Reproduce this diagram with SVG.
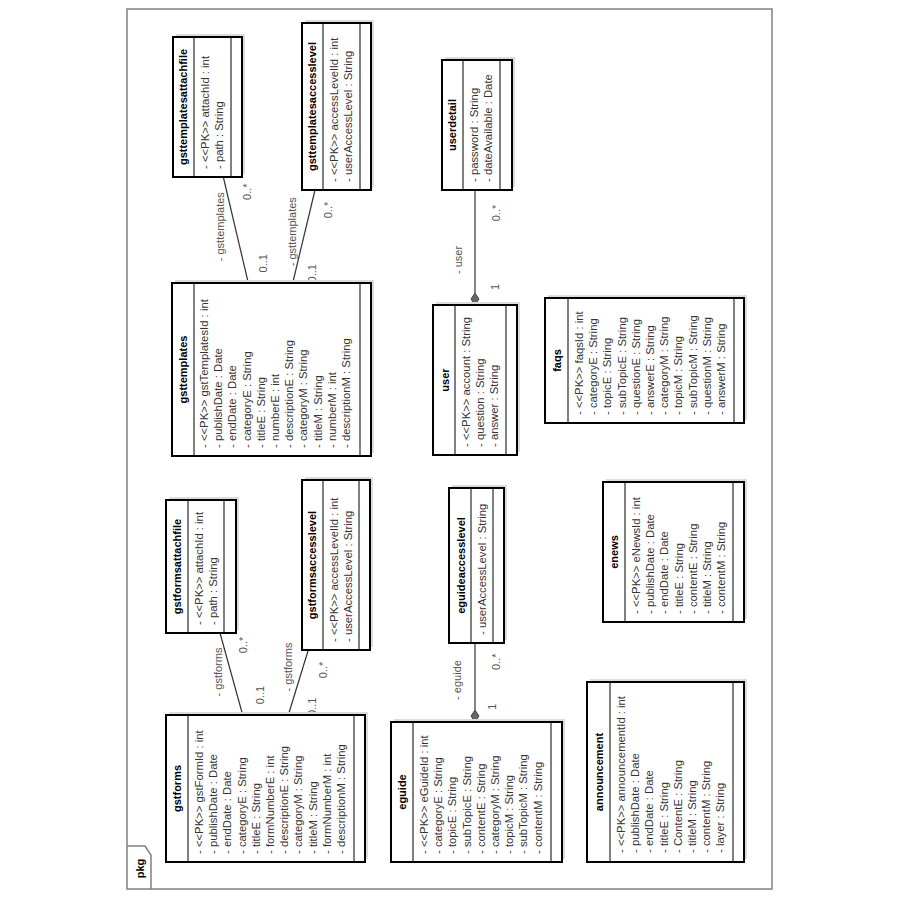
<svg xmlns="http://www.w3.org/2000/svg" width="900" height="900" viewBox="0 0 900 900">
<style>
.frame{fill:none;stroke:#808080;stroke-width:1.5}
.box{fill:#fff;stroke:#000;stroke-width:2}
.sh{fill:#dcdcdc}
.sep{stroke:#000;stroke-width:1}
.nm{font-family:"Liberation Sans",Arial,sans-serif;font-size:11px;font-weight:bold;text-anchor:middle;fill:#000}
.at{font-family:"Liberation Sans",Arial,sans-serif;font-size:11.3px;fill:#333}
.lb{font-family:"Liberation Sans",Arial,sans-serif;font-size:11px;text-anchor:middle;fill:#555}
.cn{stroke:#333;stroke-width:1.2;fill:none}
.dia{fill:#666;stroke:#444;stroke-width:1}
</style>
<rect width="900" height="900" fill="#fff"/>
<g transform="translate(0,900) rotate(-90)">
<g id="frame">
<rect class="frame" x="11" y="127" width="880" height="645"/>
<polyline class="frame" points="11,151 45,151 54,145 54,127"/>
<text class="nm" x="31.5" y="144">pkg</text>
</g>

<g id="connectors">
<line class="cn" x1="185" y1="242.7" x2="267" y2="220"/>
<line class="cn" x1="185" y1="288.3" x2="250" y2="308.3"/>
<line class="cn" x1="617" y1="248.3" x2="723" y2="223.3"/>
<line class="cn" x1="617" y1="292.7" x2="710" y2="315"/>
<line class="cn" x1="607" y1="475" x2="710" y2="475"/>
<polygon class="dia" points="595,475 601,471 607,475 601,479"/>
<line class="cn" x1="190" y1="475" x2="257" y2="475"/>
<polygon class="dia" points="178,475 184,471 190,475 184,479"/>
<text class="lb" x="228" y="222">- gstforms</text>
<text class="lb" x="255" y="246.5">0..*</text>
<text class="lb" x="205" y="264">0..1</text>
<text class="lb" x="233" y="292">- gstforms</text>
<text class="lb" x="230" y="327">0..*</text>
<text class="lb" x="193.3" y="315.5">0..1</text>
<text class="lb" x="673.3" y="224">- gsttemplates</text>
<text class="lb" x="708.3" y="251">0..*</text>
<text class="lb" x="636.7" y="267">0..1</text>
<text class="lb" x="668.3" y="295.5">- gsttemplates</text>
<text class="lb" x="690" y="332">0..*</text>
<text class="lb" x="626.7" y="315.5">0..1</text>
<text class="lb" x="640" y="462">- user</text>
<text class="lb" x="687" y="500">0..*</text>
<text class="lb" x="613" y="499">1</text>
<text class="lb" x="220" y="460.5">- eguide</text>
<text class="lb" x="238.3" y="500">0..*</text>
<text class="lb" x="193.3" y="495.5">1</text>
</g>

<g id="gstforms">
<rect class="sh" x="41" y="169" width="147" height="199"/>
<rect class="box" x="38" y="166" width="147" height="199"/>
<line class="sep" x1="38" y1="188" x2="185" y2="188"/>
<line class="sep" x1="38" y1="354" x2="185" y2="354"/>
<text class="nm" x="111.5" y="181">gstforms</text>
<text class="at" x="46" y="203"><tspan x="46">- &lt;&lt;PK&gt;&gt; gstFormId : int</tspan><tspan x="46" dy="14.2">- publishDate : Date</tspan><tspan x="46" dy="14.2">- endDate : Date</tspan><tspan x="46" dy="14.2">- categoryE : String</tspan><tspan x="46" dy="14.2">- titleE : String</tspan><tspan x="46" dy="14.2">- formNumberE : int</tspan><tspan x="46" dy="14.2">- descriptionE : String</tspan><tspan x="46" dy="14.2">- categoryM : String</tspan><tspan x="46" dy="14.2">- titleM : String</tspan><tspan x="46" dy="14.2">- formNumberM : int</tspan><tspan x="46" dy="14.2">- descriptionM : String</tspan></text>
</g>

<g id="gstformsattachfile">
<rect class="sh" x="270" y="169" width="133" height="70"/>
<rect class="box" x="267" y="166" width="133" height="70"/>
<line class="sep" x1="267" y1="188" x2="400" y2="188"/>
<line class="sep" x1="267" y1="224" x2="400" y2="224"/>
<text class="nm" x="333.5" y="181">gstformsattachfile</text>
<text class="at" x="275" y="203"><tspan x="275">- &lt;&lt;PK&gt;&gt; attachId : int</tspan><tspan x="275" dy="14.2">- path : String</tspan></text>
</g>

<g id="gstformsaccesslevel">
<rect class="sh" x="253" y="305" width="170" height="68"/>
<rect class="box" x="250" y="302" width="170" height="68"/>
<line class="sep" x1="250" y1="323" x2="420" y2="323"/>
<line class="sep" x1="250" y1="359" x2="420" y2="359"/>
<text class="nm" x="335" y="316">gstformsaccesslevel</text>
<text class="at" x="258" y="338"><tspan x="258">- &lt;&lt;PK&gt;&gt; accessLevelId : int</tspan><tspan x="258" dy="14.2">- userAccessLevel : String</tspan></text>
</g>

<g id="gsttemplates">
<rect class="sh" x="447" y="175" width="173" height="199"/>
<rect class="box" x="444" y="172" width="173" height="199"/>
<line class="sep" x1="444" y1="194" x2="617" y2="194"/>
<line class="sep" x1="444" y1="360" x2="617" y2="360"/>
<text class="nm" x="530.5" y="187">gsttemplates</text>
<text class="at" x="452" y="208"><tspan x="452">- &lt;&lt;PK&gt;&gt; gstTemplatesId : int</tspan><tspan x="452" dy="14.2">- publishDate : Date</tspan><tspan x="452" dy="14.2">- endDate : Date</tspan><tspan x="452" dy="14.2">- categoryE : String</tspan><tspan x="452" dy="14.2">- titleE : String</tspan><tspan x="452" dy="14.2">- numberE : int</tspan><tspan x="452" dy="14.2">- descriptionE : String</tspan><tspan x="452" dy="14.2">- categoryM : String</tspan><tspan x="452" dy="14.2">- titleM : String</tspan><tspan x="452" dy="14.2">- numberM : int</tspan><tspan x="452" dy="14.2">- descriptionM : String</tspan></text>
</g>

<g id="gsttemplatesattachfile">
<rect class="sh" x="726" y="176" width="140" height="69"/>
<rect class="box" x="723" y="173" width="140" height="69"/>
<line class="sep" x1="723" y1="194" x2="863" y2="194"/>
<line class="sep" x1="723" y1="231" x2="863" y2="231"/>
<text class="nm" x="793" y="187">gsttemplatesattachfile</text>
<text class="at" x="731" y="209"><tspan x="731">- &lt;&lt;PK&gt;&gt; attachId : int</tspan><tspan x="731" dy="14.2">- path : String</tspan></text>
</g>

<g id="gsttemplatesaccesslevel">
<rect class="sh" x="713" y="305" width="167" height="69"/>
<rect class="box" x="710" y="302" width="167" height="69"/>
<line class="sep" x1="710" y1="323" x2="877" y2="323"/>
<line class="sep" x1="710" y1="360" x2="877" y2="360"/>
<text class="nm" x="793.5" y="316">gsttemplatesaccesslevel</text>
<text class="at" x="718" y="338"><tspan x="718">- &lt;&lt;PK&gt;&gt; accessLevelId : int</tspan><tspan x="718" dy="14.2">- userAccessLevel : String</tspan></text>
</g>

<g id="userdetail">
<rect class="sh" x="713" y="445" width="130" height="70"/>
<rect class="box" x="710" y="442" width="130" height="70"/>
<line class="sep" x1="710" y1="463" x2="840" y2="463"/>
<line class="sep" x1="710" y1="500" x2="840" y2="500"/>
<text class="nm" x="775" y="456">userdetail</text>
<text class="at" x="718" y="478"><tspan x="718">- password : String</tspan><tspan x="718" dy="14.2">- dateAvailable : Date</tspan></text>
</g>

<g id="user">
<rect class="sh" x="448" y="436" width="150" height="84"/>
<rect class="box" x="445" y="433" width="150" height="84"/>
<line class="sep" x1="445" y1="455" x2="595" y2="455"/>
<line class="sep" x1="445" y1="506" x2="595" y2="506"/>
<text class="nm" x="520" y="449">user</text>
<text class="at" x="453" y="470"><tspan x="453">- &lt;&lt;PK&gt;&gt; account : String</tspan><tspan x="453" dy="14.2">- question : String</tspan><tspan x="453" dy="14.2">- answer : String</tspan></text>
</g>

<g id="eguideaccesslevel">
<rect class="sh" x="260" y="452" width="155" height="55"/>
<rect class="box" x="257" y="449" width="155" height="55"/>
<line class="sep" x1="257" y1="471" x2="412" y2="471"/>
<line class="sep" x1="257" y1="493" x2="412" y2="493"/>
<text class="nm" x="334.5" y="465">eguideaccesslevel</text>
<text class="at" x="265" y="486">- userAccessLevel : String</text>
</g>

<g id="eguide">
<rect class="sh" x="41" y="394" width="140" height="171"/>
<rect class="box" x="38" y="391" width="140" height="171"/>
<line class="sep" x1="38" y1="413" x2="178" y2="413"/>
<line class="sep" x1="38" y1="551" x2="178" y2="551"/>
<text class="nm" x="108" y="406">eguide</text>
<text class="at" x="46" y="428"><tspan x="46">- &lt;&lt;PK&gt;&gt; eGuideId : int</tspan><tspan x="46" dy="14.2">- categoryE : String</tspan><tspan x="46" dy="14.2">- topicE : String</tspan><tspan x="46" dy="14.2">- subTopicE : String</tspan><tspan x="46" dy="14.2">- contentE : String</tspan><tspan x="46" dy="14.2">- categoryM : String</tspan><tspan x="46" dy="14.2">- topicM : String</tspan><tspan x="46" dy="14.2">- subTopicM : String</tspan><tspan x="46" dy="14.2">- contentM : String</tspan></text>
</g>

<g id="announcement">
<rect class="sh" x="41" y="590" width="180" height="157"/>
<rect class="box" x="38" y="587" width="180" height="157"/>
<line class="sep" x1="38" y1="610" x2="218" y2="610"/>
<line class="sep" x1="38" y1="733" x2="218" y2="733"/>
<text class="nm" x="128" y="603">announcement</text>
<text class="at" x="47" y="625"><tspan x="47">- &lt;&lt;PK&gt;&gt; announcementId : int</tspan><tspan x="47" dy="14.2">- publishDate : Date</tspan><tspan x="47" dy="14.2">- endDate : Date</tspan><tspan x="47" dy="14.2">- titleE : String</tspan><tspan x="47" dy="14.2">- ContentE : String</tspan><tspan x="47" dy="14.2">- titleM : String</tspan><tspan x="47" dy="14.2">- contentM : String</tspan><tspan x="47" dy="14.2">- layer : String</tspan></text>
</g>

<g id="enews">
<rect class="sh" x="281" y="606" width="140" height="141"/>
<rect class="box" x="278" y="603" width="140" height="141"/>
<line class="sep" x1="278" y1="625" x2="418" y2="625"/>
<line class="sep" x1="278" y1="733" x2="418" y2="733"/>
<text class="nm" x="348" y="618">enews</text>
<text class="at" x="286" y="640"><tspan x="286">- &lt;&lt;PK&gt;&gt; eNewsId : int</tspan><tspan x="286" dy="14.2">- publishDate : Date</tspan><tspan x="286" dy="14.2">- endDate : Date</tspan><tspan x="286" dy="14.2">- titleE : String</tspan><tspan x="286" dy="14.2">- contentE : String</tspan><tspan x="286" dy="14.2">- titleM : String</tspan><tspan x="286" dy="14.2">- contentM : String</tspan></text>
</g>

<g id="faqs">
<rect class="sh" x="480" y="548" width="125" height="199"/>
<rect class="box" x="477" y="545" width="125" height="199"/>
<line class="sep" x1="477" y1="568" x2="602" y2="568"/>
<line class="sep" x1="477" y1="734" x2="602" y2="734"/>
<text class="nm" x="539.5" y="561">faqs</text>
<text class="at" x="485" y="583"><tspan x="485">- &lt;&lt;PK&gt;&gt; faqsId : int</tspan><tspan x="485" dy="14.2">- categoryE : String</tspan><tspan x="485" dy="14.2">- topicE : String</tspan><tspan x="485" dy="14.2">- subTopicE : String</tspan><tspan x="485" dy="14.2">- questionE : String</tspan><tspan x="485" dy="14.2">- answerE : String</tspan><tspan x="485" dy="14.2">- categoryM : String</tspan><tspan x="485" dy="14.2">- topicM : String</tspan><tspan x="485" dy="14.2">- subTopicM : String</tspan><tspan x="485" dy="14.2">- questionM : String</tspan><tspan x="485" dy="14.2">- answerM : String</tspan></text>
</g>
</g>
</svg>
